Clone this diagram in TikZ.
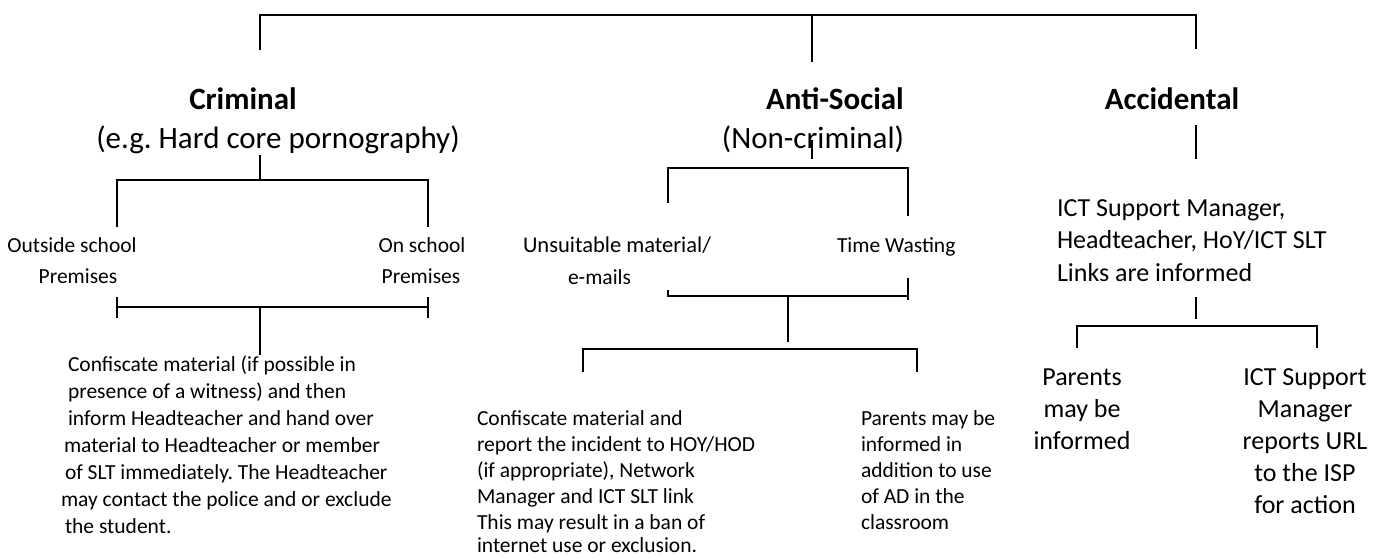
\documentclass[tikz,border=0pt]{standalone}
\usepackage{fontspec}
\setmainfont{Carlito}
\begin{document}
\begin{tikzpicture}[x=1pt,y=-1pt,
  conn/.style={line width=1.7pt, line cap=butt},
  txt/.style={inner sep=0pt, outer sep=0pt},
  head/.style={txt, anchor=base, font=\fontsize{31}{37}\selectfont\bfseries},
  sub/.style={txt, anchor=base, font=\fontsize{31}{37}\selectfont},
  med/.style={txt, font=\fontsize{26}{32}\selectfont},
  sml/.style={txt, font=\fontsize{21.5}{26}\selectfont}]
\useasboundingbox (0,0) rectangle (1373,557);

% ---------- top bracket ----------
\coordinate (t1) at (260,15);
\coordinate (t2) at (812,15);
\coordinate (t3) at (1196,15);
\coordinate (b1) at (260,50);
\coordinate (b2) at (812,62);
\coordinate (b3) at (1196,49);
\draw[conn] (b1) -- (t1) -- (t3) -- (b3);
\draw[conn] (t2) -- (b2);

% ---------- headings ----------
\node[head] (crim) at (243,109) {Criminal};
\node[sub]  (crimsub) at (278,148) {(e.g.\ Hard core pornography)};
\node[head] (anti) at (835,109) {Anti-Social};
\node[sub]  (antisub) at (813,148) {(Non-criminal)};
\node[head] (acc) at (1172,109) {Accidental};

% ---------- Criminal branch ----------
\coordinate (c0) at (260,155);
\coordinate (c1) at (260,180);
\coordinate (cl) at (117,180);
\coordinate (cr) at (428,180);
\coordinate (cld) at (117,227);
\coordinate (crd) at (428,227);
\draw[conn] (c0) -- (c1);
\draw[conn] (cld) -- (cl) -- (cr) -- (crd);

\node[sml, anchor=base] (out1) at (72,252) {Outside school};
\node[sml, anchor=base] (out2) at (78,283) {Premises};
\node[sml, anchor=base] (on1) at (422,252) {On school};
\node[sml, anchor=base] (on2) at (421,283) {Premises};

\coordinate (lt1) at (117,297);
\coordinate (lb1) at (117,318);
\coordinate (rt1) at (428,297);
\coordinate (rb1) at (428,318);
\coordinate (lm) at (117,307);
\coordinate (rm) at (428,307);
\coordinate (cm) at (260,307);
\coordinate (cd) at (260,355);
\draw[conn] (lt1) -- (lb1);
\draw[conn] (rt1) -- (rb1);
\draw[conn] (lm) -- (rm);
\draw[conn] (cm) -- (cd);

\node[sml, anchor=base west] (ca1) at (68,371) {Confiscate material (if possible in};
\node[sml, anchor=base west] (ca2) at (68,398) {presence of a witness) and then};
\node[sml, anchor=base west] (ca3) at (68,425) {inform Headteacher and hand over};
\node[sml, anchor=base west] (ca4) at (64,452) {material to Headteacher or member};
\node[sml, anchor=base west] (ca5) at (65,479) {of SLT immediately.\ The Headteacher};
\node[sml, anchor=base west] (ca6) at (61,506) {may contact the police and or exclude};
\node[sml, anchor=base west] (ca7) at (65,533) {the student.};

% ---------- Anti-Social branch ----------
\coordinate (a0) at (812,140);
\coordinate (a1) at (812,159);
\draw[conn] (a0) -- (a1);
\coordinate (al) at (668,168);
\coordinate (ar) at (908,168);
\coordinate (ald) at (668,203);
\coordinate (ard) at (908,216);
\draw[conn] (ald) -- (al) -- (ar) -- (ard);

\node[sml, anchor=base west, font=\fontsize{22.5}{27}\selectfont] (uns1) at (523,252) {Unsuitable material/};
\node[sml, anchor=base west] (uns2) at (568,284) {e-mails};
\node[sml, anchor=base west] (tw) at (837,252) {Time Wasting};

\coordinate (ul) at (668,290);
\coordinate (ulb) at (668,296);
\coordinate (urb) at (908,296);
\coordinate (urt) at (908,278);
\coordinate (urd) at (908,300);
\draw[conn] (ul) -- (ulb) -- (urb);
\draw[conn] (urt) -- (urd);
\coordinate (am) at (788,296);
\coordinate (amd) at (788,342);
\draw[conn] (am) -- (amd);
\coordinate (al2) at (583,349);
\coordinate (ar2) at (917,349);
\coordinate (al2d) at (583,372);
\coordinate (ar2d) at (917,372);
\draw[conn] (al2d) -- (al2) -- (ar2) -- (ar2d);

\node[sml, anchor=base west] (m1) at (477,425) {Confiscate material and};
\node[sml, anchor=base west] (m2) at (477,451) {report the incident to HOY/HOD};
\node[sml, anchor=base west] (m3) at (477,477) {(if appropriate), Network};
\node[sml, anchor=base west] (m4) at (477,503) {Manager and ICT SLT link};
\node[sml, anchor=base west] (m5) at (477,529) {This may result in a ban of};
\node[sml, anchor=base west] (m6) at (477,552) {internet use or exclusion.};

\node[sml, anchor=base west] (p1) at (861,425) {Parents may be};
\node[sml, anchor=base west] (p2) at (861,451) {informed in};
\node[sml, anchor=base west] (p3) at (861,477) {addition to use};
\node[sml, anchor=base west] (p4) at (861,503) {of AD in the};
\node[sml, anchor=base west] (p5) at (861,529) {classroom};

% ---------- Accidental branch ----------
\coordinate (x0) at (1196,125);
\coordinate (x1) at (1196,159);
\draw[conn] (x0) -- (x1);

\node[med, anchor=base west] (i1) at (1057,216) {ICT Support Manager,};
\node[med, anchor=base west] (i2) at (1057,248) {Headteacher, HoY/ICT SLT};
\node[med, anchor=base west] (i3) at (1057,281) {Links are informed};

\coordinate (x2) at (1196,297);
\coordinate (x3) at (1196,319);
\draw[conn] (x2) -- (x3);
\coordinate (xl) at (1077,326);
\coordinate (xr) at (1317,326);
\coordinate (xld) at (1077,348);
\coordinate (xrd) at (1317,348);
\draw[conn] (xld) -- (xl) -- (xr) -- (xrd);

\node[med, anchor=base] (pa1) at (1082,385) {Parents};
\node[med, anchor=base] (pa2) at (1082,417) {may be};
\node[med, anchor=base] (pa3) at (1082,449) {informed};

\node[med, anchor=base] (is1) at (1305,385) {ICT Support};
\node[med, anchor=base] (is2) at (1305,417) {Manager};
\node[med, anchor=base] (is3) at (1305,449) {reports URL};
\node[med, anchor=base] (is4) at (1305,481) {to the ISP};
\node[med, anchor=base] (is5) at (1305,513) {for action};
\end{tikzpicture}
\end{document}
